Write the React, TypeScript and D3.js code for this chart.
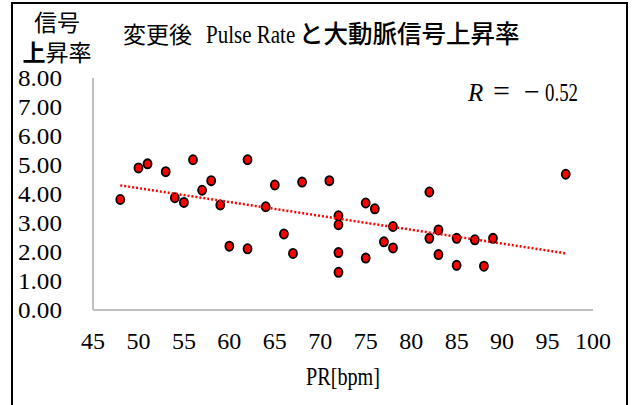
import * as d3 from "d3";

// PR [bpm] and aortic signal rise rate
const prValues = [
  48, 50, 51, 53, 54, 55, 56, 57, 58, 59, 60, 62, 62, 64, 65, 66, 67, 68, 71,
  72, 72, 72, 72, 75, 76, 75, 77, 78, 78, 82, 82, 83, 83, 85, 85, 87, 88, 89, 97,
];
const riseValues = [
  3.81, 4.9, 5.04, 4.77, 3.87, 3.71, 5.18, 4.13, 4.46, 3.62, 2.2, 5.18, 2.11,
  3.56, 4.31, 2.62, 1.95, 4.41, 4.46, 3.25, 2.94, 1.98, 1.3, 3.69, 3.49, 1.79,
  2.35, 2.88, 2.14, 4.07, 2.47, 2.76, 1.91, 2.47, 1.54, 2.42, 1.51, 2.47, 4.68,
];
const xTicks = [45, 50, 55, 60, 65, 70, 75, 80, 85, 90, 95, 100];
const yTicks = [0, 1, 2, 3, 4, 5, 6, 7, 8];

const serif = "'Liberation Serif', 'Times New Roman', serif";
const gothic = "'Noto Sans CJK JP', sans-serif";

export default function App() {
  const x = d3.scaleLinear().domain([45, 100]).range([93, 593]);
  const y = d3.scaleLinear().domain([0, 8]).range([310, 78]);

  // least squares trend line
  const mx = d3.mean(prValues) as number;
  const my = d3.mean(riseValues) as number;
  let sxy = 0;
  let sxx = 0;
  prValues.forEach((v, i) => {
    sxy += (v - mx) * (riseValues[i] - my);
    sxx += (v - mx) * (v - mx);
  });
  const slope = sxy / sxx;
  const icpt = my - slope * mx;
  const [x0, x1] = d3.extent(prValues) as [number, number];
  const trend = d3
    .line<number>()
    .x((d) => x(d))
    .y((d) => y(icpt + slope * d));

  return (
    <svg
      width={632}
      height={405}
      style={{ position: "absolute", left: 0, top: 0, background: "#fff" }}
    >
      <rect x={12} y={3} width={615} height={420} fill="#fff" stroke="#000" strokeWidth={2} />

      {/* titles */}
      <text x={123} y={43} fontSize={23} fontFamily={gothic}>
        変更後
      </text>
      <text
        transform="translate(206,43) scale(0.84,1)"
        fontFamily={serif}
        fontSize={25}
      >
        Pulse Rate
      </text>
      <text x={299} y={43} fontSize={24.5} fontWeight={500} fontFamily={gothic}>
        と大動脈信号上昇率
      </text>
      <text fontSize={23} fontFamily={gothic} textAnchor="middle">
        <tspan x={57} y={31}>
          信号
        </tspan>
        <tspan x={57} y={61}>
          <tspan fontWeight={700}>上</tspan>昇率
        </tspan>
      </text>

      <text y={101} fontSize={25} fontFamily={serif}>
        <tspan x={468} fontStyle="italic">
          R
        </tspan>
        <tspan x={493} fontSize={30}>
          =
        </tspan>
        <tspan x={524} fontSize={28}>
          −
        </tspan>
        <tspan x={545} textLength={33} lengthAdjust="spacingAndGlyphs">
          0.52
        </tspan>
      </text>

      {/* axes */}
      <line x1={x(45)} x2={x(45)} y1={y(8)} y2={y(0)} stroke="#bfbfbf" strokeWidth={2} />
      <line x1={x(45)} x2={x(100)} y1={y(0)} y2={y(0)} stroke="#bfbfbf" strokeWidth={2} />

      {yTicks.map((t) => (
        <text
          key={"y" + t}
          x={18}
          y={y(t) + 8}
          fontSize={23}
          fontFamily={serif}
          textLength={44}
          lengthAdjust="spacingAndGlyphs"
        >
          {t.toFixed(2)}
        </text>
      ))}
      {xTicks.map((t) => (
        <text
          key={"x" + t}
          x={x(t)}
          y={349}
          fontSize={24}
          fontFamily={serif}
          textAnchor="middle"
        >
          {t}
        </text>
      ))}
      <text
        x={306}
        y={385}
        fontSize={25}
        fontFamily={serif}
        textLength={74}
        lengthAdjust="spacingAndGlyphs"
      >
        PR[bpm]
      </text>

      {/* points */}
      {prValues.map((v, i) => (
        <ellipse
          key={i}
          cx={x(v)}
          cy={y(riseValues[i])}
          rx={4}
          ry={4.6}
          fill="#ff0000"
          stroke="#000"
          strokeWidth={1.8}
        />
      ))}

      <path
        d={trend([x0, x1]) as string}
        fill="none"
        stroke="#ff0000"
        strokeWidth={2.5}
        strokeDasharray="2 2"
      />
    </svg>
  );
}
